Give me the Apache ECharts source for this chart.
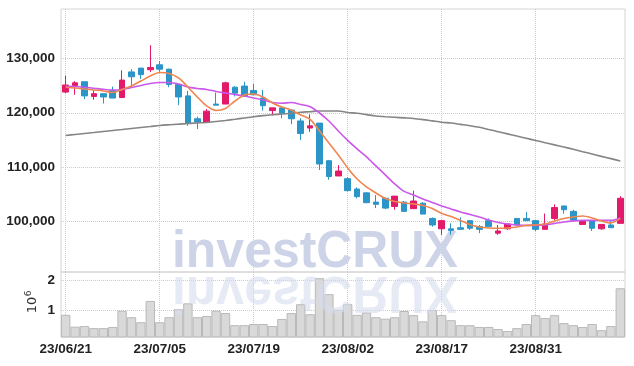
<!DOCTYPE html>
<html><head><meta charset="utf-8">
<script src="https://cdn.jsdelivr.net/npm/echarts@6/dist/echarts.min.js"></script>
<style>html,body{margin:0;padding:0;background:#fff}#c{width:634px;height:366px}</style>
</head><body><div id="c"></div>
<script>
const dates = ['23/06/21','23/06/22','23/06/23','23/06/26','23/06/27','23/06/28','23/06/29','23/06/30',
 '23/07/03','23/07/04','23/07/05','23/07/06','23/07/07','23/07/10','23/07/11','23/07/12','23/07/13','23/07/14',
 '23/07/17','23/07/18','23/07/19','23/07/20','23/07/21','23/07/24','23/07/25','23/07/26','23/07/27','23/07/28','23/07/31',
 '23/08/01','23/08/02','23/08/03','23/08/04','23/08/07','23/08/08','23/08/09','23/08/10','23/08/11','23/08/14','23/08/16',
 '23/08/17','23/08/18','23/08/21','23/08/22','23/08/23','23/08/24','23/08/25','23/08/28','23/08/29','23/08/30','23/08/31',
 '23/09/01','23/09/04','23/09/05','23/09/06','23/09/07','23/09/08','23/09/11','23/09/12','23/09/13'];
const openP  = [123800,125000,125700,123000,123500,124100,122800,127500,128200,127900,128800,128000,125200,123100,118900,118300,121600,121600,124700,124900,124100,122700,120400,120900,120500,118500,117200,118100,111200,108400,107900,106000,105300,103600,104300,102800,103600,102400,103400,100600,98700,98700,98900,100200,99100,100200,97900,98700,100600,100600,100200,98600,100600,102900,101900,99500,100200,98700,99400,99700];
const closeP = [125100,125500,123100,123500,122900,122700,126000,126600,127000,128300,128000,125200,122900,118100,118300,120300,121400,125500,123600,123000,123300,121300,120900,119900,118900,116200,117600,110600,108300,109300,105700,104600,103500,103200,102500,104700,101900,103800,101400,99400,100200,98400,98600,98800,98600,99100,98300,99600,99400,100200,98600,99600,102600,102200,100300,100200,98800,99500,98900,104300];
const lowP   = [123600,123300,122500,122400,121700,122700,122700,124700,126200,127500,127500,124700,121400,117600,117000,118300,121400,121600,123000,123000,123300,120400,119500,119000,117900,115000,116500,109500,107700,108400,105600,104300,103400,102500,102300,102200,101800,102400,101400,99100,97600,97600,98600,98500,97900,99100,97600,98500,99400,100200,98300,98600,100300,101500,100000,99500,98300,98500,98900,99700];
const highP  = [126800,125800,125700,124100,123500,124800,127800,128000,128200,132400,129500,128100,125200,124000,119300,120700,123700,125700,124900,125700,125300,124200,120900,120900,120500,119000,119700,118100,111300,110400,108200,106300,105400,104900,104400,104700,103800,105700,103600,100800,100200,99700,100800,100200,99400,100600,99400,99600,100600,101800,100200,101500,103200,102900,102200,100200,100200,99500,100300,104700];
const volume = [830000,430000,450000,380000,380000,420000,970000,750000,580000,1300000,580000,750000,1020000,1220000,750000,790000,970000,890000,480000,480000,520000,520000,450000,690000,890000,1190000,850000,2070000,1530000,1000000,1190000,830000,910000,750000,700000,750000,960000,820000,610000,990000,820000,650000,480000,480000,420000,420000,350000,280000,380000,520000,820000,720000,820000,550000,480000,420000,520000,310000,450000,1730000];
const ma5   = [124680,124550,124370,124180,124000,123720,124280,124920,125830,126750,127390,127210,126390,124730,122900,121250,120420,120790,122160,123270,123450,122900,121800,121060,120510,119600,118770,116660,114460,112260,109870,107850,106380,105280,104270,103720,103450,103260,102990,102440,101520,100970,100240,99500,99040,98860,98810,98860,99040,99320,99410,99590,100150,100600,100880,101060,100700,100150,99780,100600];
const ma20  = [124920,124830,124680,124500,124310,124180,124280,124640,125010,125380,125560,125560,125280,124730,124460,124280,123910,123630,123360,123080,122720,122350,121890,121740,121890,121520,121120,119960,118490,116660,114920,113360,111890,110240,108590,106930,105560,104920,104180,103540,102900,102350,101800,101340,100880,100330,99870,99590,99410,99320,99320,99410,99690,99960,100150,100240,100240,100240,100240,100700];
const ma120 = [115830,116020,116200,116380,116570,116750,116930,117120,117300,117480,117670,117800,117910,118040,118130,118220,118400,118590,118810,119050,119280,119470,119630,119780,119910,120090,120200,120330,120330,120330,120050,119910,119660,119400,119280,119170,119060,118950,118750,118510,118270,118110,117870,117630,117340,116930,116530,116130,115720,115320,114920,114510,114110,113710,113300,112860,112440,112000,111580,111150];
const priceTicks = [100000,110000,120000,130000];
const volumeTicks = [1000000,2000000];

function hasFont(f){
  const ctx = document.createElement('canvas').getContext('2d');
  const t = '130,000 23/06/21 investCRUX';
  ctx.font = 'bold 40px monospace'; const a = ctx.measureText(t).width;
  ctx.font = 'bold 40px "' + f + '", monospace'; const b = ctx.measureText(t).width;
  return Math.abs(a - b) > 0.5;
}
let LFAM = 'Liberation Sans', LSIZE = 13.5;
if (hasFont('Liberation Sans Narrow')) { LFAM = 'Liberation Sans Narrow'; LSIZE = 15; }
else if (hasFont('Arial Narrow')) { LFAM = 'Arial Narrow'; LSIZE = 15; }

const RED = '#e3196a', BLUE = '#2b95c7', GRIDC = '#c3c9de';
const labelFont = {fontFamily:LFAM, fontWeight:'bold', fontSize:LSIZE, color:'#222'};
const split = {show:true, interval:9, alignWithLabel:true, lineStyle:{type:'dotted', color:GRIDC, width:1}};
const hsplit = {show:true, lineStyle:{type:'dotted', color:GRIDC, width:1}};

const chart = echarts.init(document.getElementById('c'), null, {renderer:'canvas'});
chart.setOption({
  animation:false,
  backgroundColor:'#fff',
  grid:[
    {left:61, right:9, top:9, height:263, show:true, borderColor:'#d4d4d4', borderWidth:1},
    {left:61, right:9, top:272, height:65, show:true, borderColor:'#d4d4d4', borderWidth:1}
  ],
  xAxis:[
    {type:'category', gridIndex:0, data:dates, boundaryGap:true, axisLine:{show:false}, axisTick:{show:false}, axisLabel:{show:false, interval:9}, splitLine:split},
    {type:'category', gridIndex:1, data:dates, boundaryGap:true, axisLine:{show:false}, axisTick:{show:false}, axisLabel:Object.assign({interval:9, margin:5}, labelFont), splitLine:split}
  ],
  yAxis:[
    {type:'value', gridIndex:0, min:90770, max:139050, axisLine:{show:false}, axisTick:{show:false, customValues:priceTicks},
     axisLabel:Object.assign({customValues:priceTicks, margin:6, formatter:v=>v.toLocaleString('en-US')}, labelFont), splitLine:hsplit},
    {type:'value', gridIndex:1, min:80000, max:2280000, axisLine:{show:false}, axisTick:{show:false, customValues:volumeTicks},
     axisLabel:Object.assign({customValues:volumeTicks, margin:6, formatter:v=>String(v/1000000)}, labelFont), splitLine:hsplit}
  ],
  graphic:[
    {type:'text', x:172, y:253, scaleX:0.96, z:1, style:{text:'investCRUX', font:'bold 52px "Liberation Sans"', fill:'#cdd4e8', textAlign:'left', textVerticalAlign:'middle'}},
    {type:'text', x:172, y:291, scaleX:0.96, scaleY:-1, z:5, style:{text:'investCRUX', font:'bold 52px "Liberation Sans"', fill:'rgba(214,220,238,0.6)', textAlign:'left', textVerticalAlign:'middle'}},
    {type:'text', x:33, y:305, rotation:Math.PI/2, z:5, style:{text:'10', font:'13px "DejaVu Sans"', fill:'#333', textAlign:'center', textVerticalAlign:'middle'}},
    {type:'text', x:28.5, y:293.5, rotation:Math.PI/2, z:5, style:{text:'6', font:'9px "DejaVu Sans"', fill:'#333', textAlign:'center', textVerticalAlign:'middle'}}
  ],
  series:[
    {type:'candlestick', xAxisIndex:0, yAxisIndex:0, barWidth:6, z:3,
     data:dates.map((d,i)=>[openP[i], closeP[i], lowP[i], highP[i]]),
     itemStyle:{color:RED, color0:BLUE, borderColor:RED, borderColor0:BLUE, borderWidth:1}},
    {type:'line', xAxisIndex:0, yAxisIndex:0, data:ma120, showSymbol:false, smooth:0.3, z:4, lineStyle:{color:'#858585', width:1.6}},
    {type:'line', xAxisIndex:0, yAxisIndex:0, data:ma20, showSymbol:false, smooth:0.3, z:4, lineStyle:{color:'#cb58ea', width:1.6}},
    {type:'line', xAxisIndex:0, yAxisIndex:0, data:ma5, showSymbol:false, smooth:0.3, z:4, lineStyle:{color:'#ee8650', width:1.6}},
    {type:'bar', xAxisIndex:1, yAxisIndex:1, data:volume, barWidth:'100%', z:3,
     itemStyle:{color:'#d9d9d9', borderColor:'#b9b9b9', borderWidth:1}}
  ]
});
</script></body></html>
